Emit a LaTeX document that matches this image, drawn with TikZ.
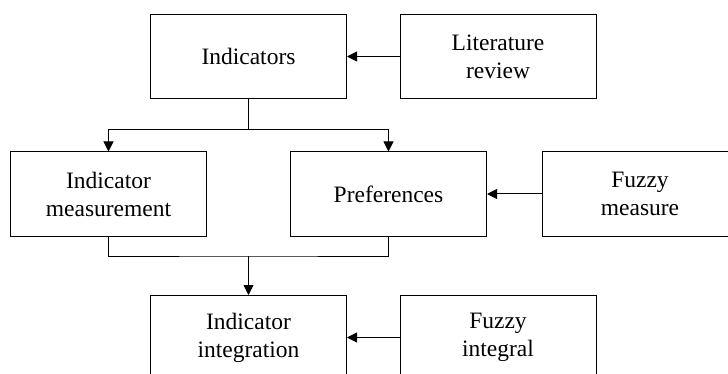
\documentclass[tikz,border=0pt]{standalone}
\usepackage{fontspec}
\setmainfont{Liberation Serif}
\usetikzlibrary{arrows.meta}
\begin{document}
\begin{tikzpicture}[x=1pt,y=-1pt,
  box/.style={draw, line width=1pt, minimum width=196pt, minimum height=84pt, align=center,
    font=\fontsize{23.5}{28}\selectfont, inner sep=0pt},
  conn/.style={line width=1pt},
  arr/.style={conn,-{Triangle[length=10pt,width=10pt]}}]
\clip (0,0) rectangle (728,374);
\fill[white] (0,0) rectangle (728,374);
\node[box] (ind) at (248.5,56.5) {Indicators};
\node[box] (lit) at (498,56.5) {Literature\\review};
\node[box] (meas) at (108.5,194) {Indicator\\measurement};
\node[box] (pref) at (388.5,194) {Preferences};
\node[box] (fm) at (640,194) {Fuzzy\\measure};
\node[box] (integ) at (248.5,337.5) {Indicator\\integration};
\node[box] (fi) at (498,337.5) {Fuzzy\\integral};
\draw[arr] (lit.west) -- (ind.east);
\draw[arr] (fm.west) -- (pref.east);
\draw[arr] (fi.west) -- (integ.east);
\coordinate (s) at (248.5,130);
\draw[conn] (ind.south) -- (s);
\draw[arr] (s) -| (meas.north);
\draw[arr] (s) -| (pref.north);
\coordinate (j) at (248.5,256);
\draw[conn] (meas.south) |- (j) -| (pref.south);
\draw[arr] (j) -- (integ.north);
\end{tikzpicture}
\end{document}
